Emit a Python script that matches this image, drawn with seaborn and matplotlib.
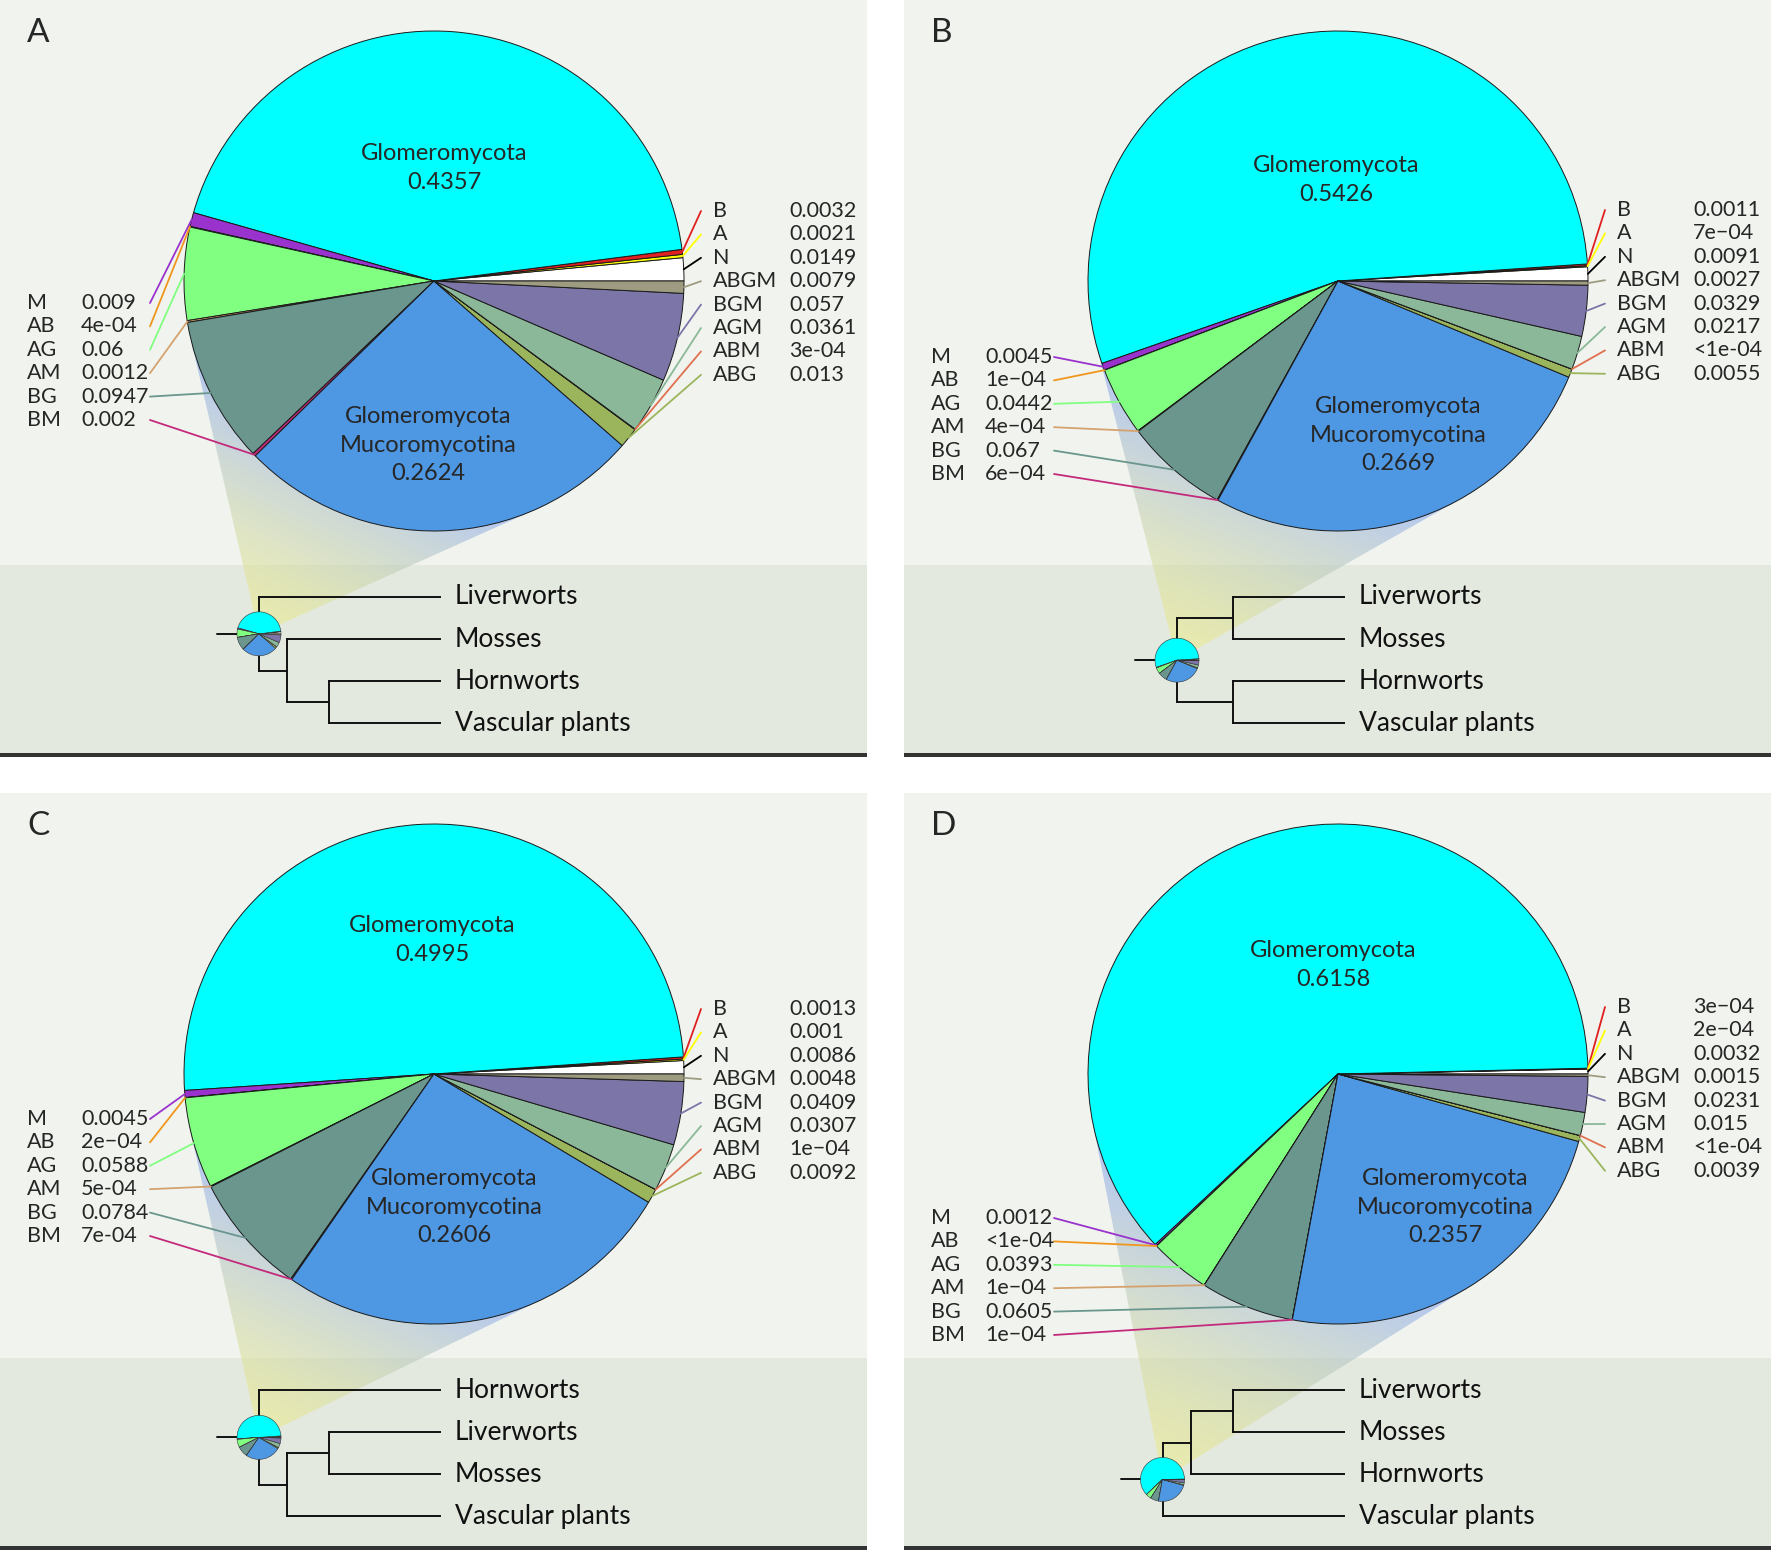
import numpy as np
import matplotlib
matplotlib.use("Agg")
import matplotlib.pyplot as plt
from matplotlib.patches import Rectangle, Polygon
import seaborn as sns

sns.set_theme(style="white")
plt.rcParams["font.family"] = ["Lato", "DejaVu Sans"]

# categories in pie order (counter-clockwise from 3 o'clock)
categories = ["N", "A", "B", "G", "M", "AB", "AG", "AM", "BG", "BM",
              "GM", "ABG", "ABM", "AGM", "BGM", "ABGM"]
cat_colors = ["#FFFFFF", "#FFFF00", "#E02020", "#00FFFF", "#9A32CD", "#F0961E",
              "#80FF80", "#D4A26E", "#6A968E", "#C42A7C", "#4D97E3", "#9BB55C",
              "#E07050", "#8AB898", "#7B75A8", "#9E9C80"]
left_cats = ["M", "AB", "AG", "AM", "BG", "BM"]
right_cats = ["B", "A", "N", "ABGM", "BGM", "AGM", "ABM", "ABG"]

# values (values shown as "<1e-04" are drawn as 3e-05)
freq_a = [0.0149, 0.0021, 0.0032, 0.4357, 0.009, 0.0004, 0.06, 0.0012, 0.0947, 0.002,
          0.2624, 0.013, 0.0003, 0.0361, 0.057, 0.0079]
freq_b = [0.0091, 0.0007, 0.0011, 0.5426, 0.0045, 0.0001, 0.0442, 0.0004, 0.067, 0.0006,
          0.2669, 0.0055, 0.00003, 0.0217, 0.0329, 0.0027]
freq_c = [0.0086, 0.001, 0.0013, 0.4995, 0.0045, 0.0002, 0.0588, 0.0005, 0.0784, 0.0007,
          0.2606, 0.0092, 0.0001, 0.0307, 0.0409, 0.0048]
freq_d = [0.0032, 0.0002, 0.0003, 0.6158, 0.0012, 0.00003, 0.0393, 0.0001, 0.0605, 0.0001,
          0.2357, 0.0039, 0.00003, 0.015, 0.0231, 0.0015]

# printed labels
text_a = ["0.0149", "0.0021", "0.0032", "0.4357", "0.009", "4e-04", "0.06", "0.0012", "0.0947",
          "0.002", "0.2624", "0.013", "3e-04", "0.0361", "0.057", "0.0079"]
text_b = ["0.0091", "7e\u221204", "0.0011", "0.5426", "0.0045", "1e\u221204", "0.0442", "4e\u221204",
          "0.067", "6e\u221204", "0.2669", "0.0055", "<1e-04", "0.0217", "0.0329", "0.0027"]
text_c = ["0.0086", "0.001", "0.0013", "0.4995", "0.0045", "2e\u221204", "0.0588", "5e-04", "0.0784",
          "7e-04", "0.2606", "0.0092", "1e\u221204", "0.0307", "0.0409", "0.0048"]
text_d = ["0.0032", "2e\u221204", "3e\u221204", "0.6158", "0.0012", "<1e-04", "0.0393", "1e\u221204",
          "0.0605", "1e\u221204", "0.2357", "0.0039", "<1e-04", "0.015", "0.0231", "0.0015"]

tree_a = ("Liverworts", ("Mosses", ("Hornworts", "Vascular plants")))
tree_b = (("Liverworts", "Mosses"), ("Hornworts", "Vascular plants"))
tree_c = ("Hornworts", (("Liverworts", "Mosses"), "Vascular plants"))
tree_d = ((("Liverworts", "Mosses"), "Hornworts"), "Vascular plants")

panels = [
    dict(letter="A", freq=freq_a, text=text_a, tree=tree_a, x0=0, y0=0,
         left_top=303, right_top=211, g_off=(10, -113), gm_off=(-6, 164), node_x=[259, 287, 328.5]),
    dict(letter="B", freq=freq_b, text=text_b, tree=tree_b, x0=904, y0=0,
         left_top=357, right_top=210, g_off=(-2, -101), gm_off=(60, 154), node_x=[273, 328.5]),
    dict(letter="C", freq=freq_c, text=text_c, tree=tree_c, x0=0, y0=793,
         left_top=326, right_top=216, g_off=(-2, -134), gm_off=(20, 133), node_x=[259, 287, 328.5]),
    dict(letter="D", freq=freq_d, text=text_d, tree=tree_d, x0=904, y0=793,
         left_top=425, right_top=214, g_off=(-5, -109), gm_off=(107, 133), node_x=[258.5, 287, 328.5]),
]

W, H = 1772, 1550
PW, PH = 867, 757
CX, CY, R = 434, 281, 250
SR = 22
LEAF_END, LEAF_Y0, LEAF_DY = 440, 597, 42.1
TOP_BG, BOT_BG = "#F1F4EE", "#E3E9DF"
FS = 15.5


def layout_tree(node, depth, node_x, leaves):
    if isinstance(node, str):
        y = LEAF_Y0 + LEAF_DY * len(leaves)
        leaves.append((node, y))
        return LEAF_END, y, []
    kids = [layout_tree(c, depth + 1, node_x, leaves) for c in node]
    y = (kids[0][1] + kids[-1][1]) / 2
    x = node_x[depth]
    segs = [((x, x), (kids[0][1], kids[-1][1]))]
    for kx, ky, ks in kids:
        segs.append(((x, kx), (ky, ky)))
        segs += ks
    return x, y, segs


def draw_cone(ax, apex, center, radius):
    sx, sy = apex
    cx, cy = center
    d = np.hypot(sx - cx, sy - cy)
    a = np.arctan2(sy - cy, sx - cx)
    b = np.arccos(radius / d)
    t1 = (cx + radius * np.cos(a + b), cy + radius * np.sin(a + b))
    t2 = (cx + radius * np.cos(a - b), cy + radius * np.sin(a - b))
    poly = Polygon([apex, t1, center, t2], closed=True, fc="none", ec="none")
    ax.add_patch(poly)
    gx, gy = np.meshgrid(np.linspace(0, PW, 300), np.linspace(0, PH, 300))
    t = ((gx - sx) * (cx - sx) + (gy - sy) * (cy - sy)) / d ** 2
    t = np.clip(t / (1 - (radius / d) ** 2), 0, 1) ** 1.3
    t = t[..., None]
    c0 = np.array([0.94, 0.93, 0.52, 0.55])
    c1 = np.array([0.48, 0.62, 1.00, 0.58])
    img = c0 + t * (c1 - c0)
    im = ax.imshow(img, extent=(0, PW, PH, 0), origin="upper", aspect="auto",
                   zorder=1, interpolation="bilinear")
    im.set_clip_path(poly)


fig = plt.figure(figsize=(W / 100, H / 100), dpi=100)
fig.patch.set_facecolor("white")

for p in panels:
    ax = fig.add_axes([p["x0"] / W, 1 - (p["y0"] + PH) / H, PW / W, PH / H])
    ax.add_patch(Rectangle((0, 0), PW, 565, fc=TOP_BG, ec="none", zorder=0))
    ax.add_patch(Rectangle((0, 565), PW, PH - 565, fc=BOT_BG, ec="none", zorder=0))
    ax.add_patch(Rectangle((0, PH - 4), PW, 4, fc="#333333", ec="none", zorder=0.5))

    # tree
    leaves = []
    rx, ry, segs = layout_tree(p["tree"], 0, p["node_x"], leaves)
    for xs, ys in segs:
        ax.plot(xs, ys, color="#111111", lw=1.4, zorder=2, solid_capstyle="projecting")
    ax.plot([rx - 42, rx], [ry, ry], color="#111111", lw=1.4, zorder=2)
    for name, ly in leaves:
        ax.text(455, ly, name, fontsize=19, va="center", ha="left", color="#111111", zorder=6)

    draw_cone(ax, (rx, ry), (CX, CY), R)

    # small pie at root
    sw, _ = ax.pie(p["freq"], colors=cat_colors, startangle=0, counterclock=False,
                   center=(rx, ry), radius=SR, frame=True,
                   wedgeprops=dict(edgecolor="#333333", linewidth=0.4))
    for w in sw:
        w.set_zorder(3)

    # big pie
    wedges, _ = ax.pie(p["freq"], colors=cat_colors, startangle=0, counterclock=False,
                       center=(CX, CY), radius=R, frame=True,
                       wedgeprops=dict(edgecolor="#1a1a1a", linewidth=0.7))
    for w in wedges:
        w.set_zorder(4)

    def edge_point(cat):
        w = wedges[categories.index(cat)]
        m = np.deg2rad((w.theta1 + w.theta2) / 2)
        return CX + R * np.cos(m), CY + R * np.sin(m)

    def line_color(cat):
        return "#000000" if cat == "N" else cat_colors[categories.index(cat)]

    for i, cat in enumerate(left_cats):
        y = p["left_top"] + 23.4 * i
        ax.text(27, y, cat, fontsize=FS, va="center", ha="left", zorder=6)
        ax.text(81, y, p["text"][categories.index(cat)], fontsize=FS, va="center",
                ha="left", zorder=6)
        ex, ey = edge_point(cat)
        ax.plot([150, ex], [y, ey], color=line_color(cat), lw=1.3, zorder=5)

    for i, cat in enumerate(right_cats):
        y = p["right_top"] + 23.4 * i
        ax.text(713, y, cat, fontsize=FS, va="center", ha="left", zorder=6)
        ax.text(789, y, p["text"][categories.index(cat)], fontsize=FS, va="center",
                ha="left", zorder=6)
        ex, ey = edge_point(cat)
        ax.plot([701, ex], [y, ey], color=line_color(cat), lw=1.3, zorder=5)

    g_txt = "Glomeromycota\n" + p["text"][categories.index("G")]
    gm_txt = "Glomeromycota\nMucoromycotina\n" + p["text"][categories.index("GM")]
    ax.text(CX + p["g_off"][0], CY + p["g_off"][1], g_txt, fontsize=17, ha="center",
            va="center", linespacing=1.45, zorder=6)
    ax.text(CX + p["gm_off"][0], CY + p["gm_off"][1], gm_txt, fontsize=17, ha="center",
            va="center", linespacing=1.45, zorder=6)

    ax.text(27, 33, p["letter"], fontsize=24, va="center", ha="left", zorder=6)

    ax.set_aspect("auto")
    ax.set_xlim(0, PW)
    ax.set_ylim(PH, 0)
    ax.axis("off")

fig.savefig("out.png", dpi=100)
